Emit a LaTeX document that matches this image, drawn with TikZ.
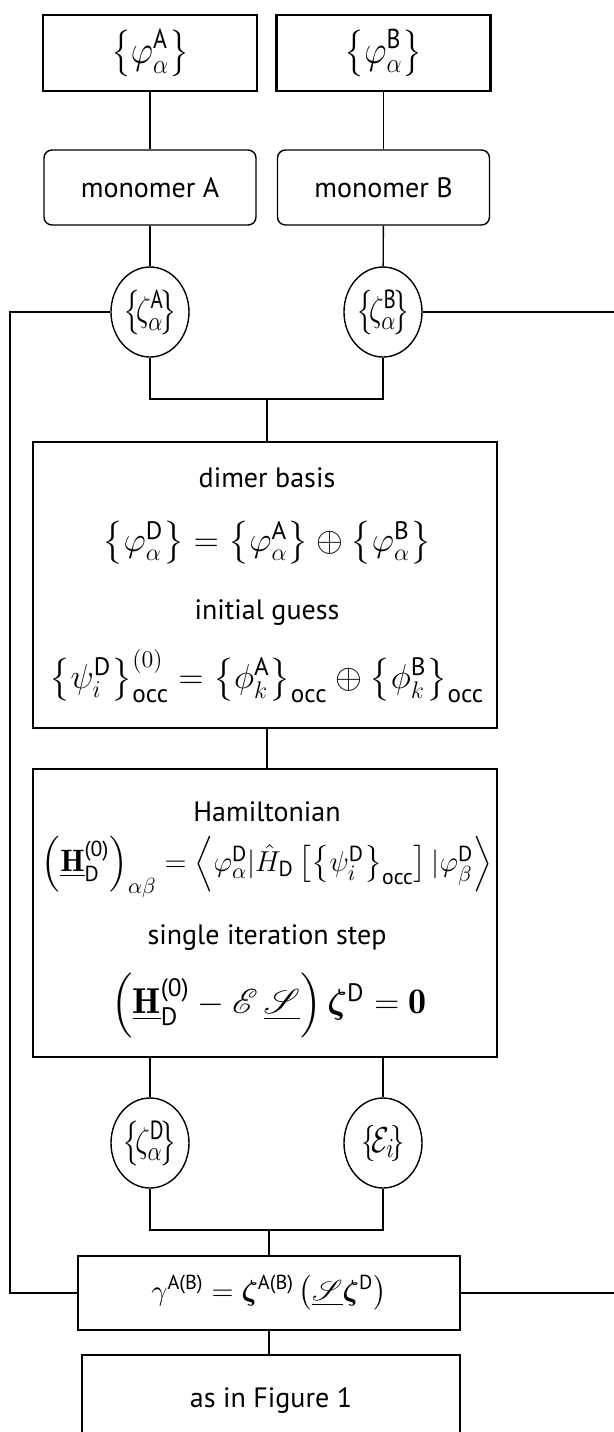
\documentclass[tikz,border=0pt]{standalone}
\usepackage{amsmath}
\usepackage{amssymb}
\usepackage{bm}
\usepackage{mathrsfs}
\usepackage{graphicx}
\usepackage{fontspec}
\setsansfont{PT Sans}
\usetikzlibrary{shapes.geometric}
\newcommand{\sff}[1]{\text{\sffamily #1}}
\newcommand{\tallset}[1]{\scalebox{1}[1.25]{$\left\{\!#1\!\right\}$}}
\newcommand{\boxset}[1]{\scalebox{1}[1.15]{$\left\{#1\right\}$}}

\begin{document}
\begin{tikzpicture}[x=0.5pt, y=-0.5pt, line width=0.7pt,
    font=\sffamily\fontsize{14}{17}\selectfont,
    thickbox/.style={draw, line width=1.4pt, inner sep=0pt},
    thinbox/.style={draw, line width=0.7pt, inner sep=0pt},
    roundbox/.style={thinbox, rounded corners=4pt},
    setnode/.style={draw, ellipse, line width=0.7pt, inner sep=0pt,
      minimum width=39pt, minimum height=45pt, font=\fontsize{15}{18}\selectfont},
    bigmath/.style={font=\fontsize{18}{22}\selectfont},
    midmath/.style={font=\fontsize{17}{20}\selectfont}]
    \clip (0,0) rectangle (614,1432);
    % basis sets of the monomers
    \node[thickbox, minimum width=107pt, minimum height=38pt, midmath] (setA) at (150,53)
      {\boxset{\varphi^{\sff A}_{\alpha}}};
    \node[thickbox, minimum width=107pt, minimum height=38pt, midmath] (setB) at (383.5,53)
      {\boxset{\varphi^{\sff B}_{\alpha}}};
    \node[roundbox, minimum width=106pt, minimum height=37.5pt] (monA) at (150,187.5) {monomer A};
    \node[roundbox, minimum width=106pt, minimum height=37.5pt] (monB) at (383.5,187.5) {monomer B};
    \node[setnode] (zetaA) at (150,312) {\tallset{\zeta^{\sff A}_{\alpha}}};
    \node[setnode] (zetaB) at (383,312) {\tallset{\zeta^{\sff B}_{\alpha}}};
    % dimer
    \node[thickbox, minimum width=232pt, minimum height=143pt] (dimer) at (265,585) {};
    \node (dimlbl) at (267,478) {dimer basis};
    \node[bigmath] (dimeq) at (267,543)
      {$\left\{\varphi^{\sff D}_{\alpha}\right\} = \left\{\varphi^{\sff A}_{\alpha}\right\}
        \oplus \left\{\varphi^{\sff B}_{\alpha}\right\}$};
    \node (guesslbl) at (267,613) {initial guess};
    \node[bigmath] (guesseq) at (267,676)
      {$\left\{\psi^{\sff D}_{i}\right\}^{(0)}_{\sff{occ}} = \left\{\phi^{\sff A}_{k}\right\}_{\sff{occ}}
        \oplus \left\{\phi^{\sff B}_{k}\right\}_{\sff{occ}}$};
    \node[thickbox, minimum width=232pt, minimum height=144pt] (ham) at (265,913) {};
    \node (hamlbl) at (267,812) {Hamiltonian};
    \node[font=\fontsize{15.5}{19}\selectfont] (hameq) at (267,867)
      {$\left(\underline{\mathbf{H}}^{\sff{(0)}}_{\sff D}\right)_{\alpha\beta}
        = \left\langle \varphi^{\sff D}_{\alpha} | \hat{H}_{\sff D}
        \left[\left\{\psi^{\sff D}_{i}\right\}_{\sff{occ}}\right] | \varphi^{\sff D}_{\beta}\right\rangle$};
    \node (steplbl) at (267,938) {single iteration step};
    \node[bigmath] (stepeq) at (269,1005)
      {$\left(\underline{\mathbf{H}}^{\sff{(0)}}_{\sff D} - \mathscr{E}\,\underline{\mathscr{S}}\right)
        \boldsymbol{\zeta}^{\sff D} = \mathbf{0}$};
    \node[setnode] (zetaD) at (150,1143) {\tallset{\zeta^{\sff D}_{\alpha}}};
    \node[setnode] (eps) at (383,1143) {\tallset{\mathcal{E}_{i}}};
    % overlap
    \node[thinbox, minimum width=191pt, minimum height=37pt, font=\fontsize{14.5}{17}\selectfont] (gamma) at (269,1293)
      {$\gamma^{\sff{A(B)}} = \boldsymbol{\zeta}^{\sff{A(B)}}
        \left(\underline{\mathscr{S}}\boldsymbol{\zeta}^{\sff D}\right)$};
    \node[thinbox, minimum width=189pt, minimum height=45pt] (fig1) at (271,1400) {as in Figure 1};

    \coordinate (jn1) at (267,399);
    \coordinate (jn2) at (269,1230);
    \coordinate (lf) at (10,0);
    \coordinate (rt) at (620,0);

    \draw (setA) -- (monA);
    \draw (setB) -- (monB);
    \draw (monA) -- (zetaA);
    \draw (monB) -- (zetaB);
    \draw (zetaA.south) |- (jn1) -| (zetaB.south);
    \draw (jn1) -- (jn1 |- dimer.north);
    \draw (dimer.south -| jn1) -- (jn1 |- ham.north);
    \draw (zetaD.north) -- (zetaD.north |- ham.south);
    \draw (eps.north) -- (eps.north |- ham.south);
    \draw (zetaD.south) |- (jn2) -| (eps.south);
    \draw (jn2) -- (gamma.north);
    \draw (gamma.south) -- (gamma.south |- fig1.north);
    % feedback
    \draw (zetaA.west) -- (zetaA.west -| lf) |- (gamma.west);
    \draw (zetaB.east) -- (zetaB.east -| rt);
    \draw (gamma.east) -- (gamma.east -| rt);
  \end{tikzpicture}
\end{document}
